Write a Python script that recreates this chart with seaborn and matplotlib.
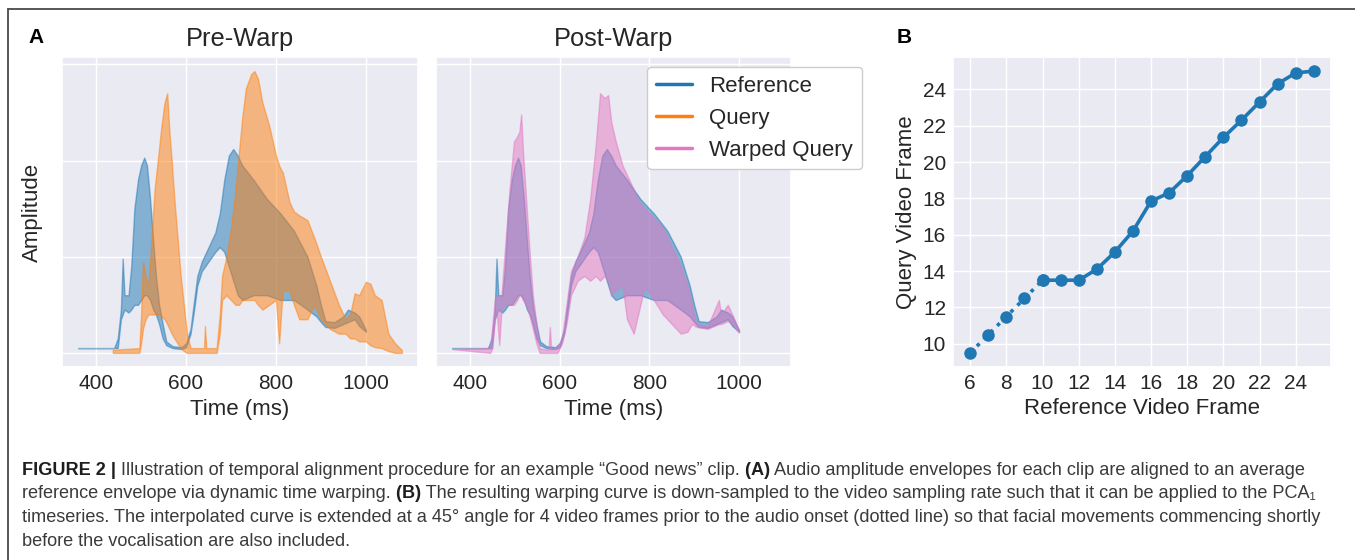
import matplotlib
matplotlib.use("Agg")
import matplotlib.pyplot as plt
from matplotlib.lines import Line2D
from matplotlib import font_manager
import seaborn as sns

# ------------------------------------------------------------------ data
# Panel A: amplitude envelopes (upper / lower envelope of the dense signal)
ref_time = [360, 440, 448, 455, 459, 463, 472, 478, 485, 493, 500, 507, 513, 520, 527, 533, 540, 548, 556, 570,
            590, 600, 610, 618, 625, 635, 650, 665, 675, 685, 695, 705, 715, 725, 750, 780, 810, 840, 870, 890,
            900, 910, 930, 950, 960, 975, 985, 1000]
ref_upper = [0.05, 0.05, 0.15, 0.45, 0.98, 0.60, 0.60, 0.90, 1.50, 1.80, 1.95, 2.03, 1.95, 1.60, 1.15, 0.80, 0.50, 0.30, 0.12, 0.07,
             0.06, 0.10, 0.25, 0.55, 0.80, 0.95, 1.10, 1.25, 1.45, 1.80, 2.05, 2.12, 2.05, 1.95, 1.80, 1.60, 1.45, 1.27, 1.00, 0.70,
             0.50, 0.33, 0.32, 0.38, 0.45, 0.42, 0.38, 0.24]
ref_lower = [0.05, 0.05, 0.05, 0.35, 0.40, 0.45, 0.42, 0.45, 0.50, 0.50, 0.55, 0.60, 0.60, 0.55, 0.45, 0.40, 0.30, 0.15, 0.08, 0.05,
             0.04, 0.06, 0.20, 0.45, 0.70, 0.85, 0.95, 1.05, 1.10, 1.05, 0.90, 0.75, 0.60, 0.55, 0.60, 0.60, 0.55, 0.55, 0.45, 0.38,
             0.32, 0.27, 0.26, 0.30, 0.32, 0.35, 0.28, 0.22]

query_time = [437, 460, 496, 500, 504, 510, 516, 522, 530, 537, 545, 552, 558, 563, 568, 574, 581, 588, 595, 602,
              610, 640, 642, 645, 668, 675, 680, 690, 700, 710, 718, 725, 733, 745, 752, 760, 770, 785, 800, 807,
              812, 815, 830, 840, 852, 870, 885, 900, 920, 940, 955, 965, 975, 985, 1000, 1010, 1020, 1035, 1050, 1065,
              1080]
query_upper = [0.03, 0.04, 0.05, 0.40, 0.95, 0.80, 0.70, 1.10, 1.70, 2.00, 2.35, 2.60, 2.70, 2.30, 2.00, 1.60, 1.20, 0.80, 0.50, 0.20,
               0.05, 0.05, 0.28, 0.05, 0.05, 0.40, 0.80, 1.00, 1.30, 1.70, 2.10, 2.45, 2.75, 2.90, 2.93, 2.85, 2.60, 2.36, 2.05, 1.95,
               1.90, 1.88, 1.57, 1.47, 1.43, 1.38, 1.20, 1.00, 0.75, 0.50, 0.35, 0.40, 0.62, 0.60, 0.74, 0.72, 0.60, 0.55, 0.20, 0.10,
               0.03]
query_lower = [0.00, 0.00, 0.00, 0.10, 0.25, 0.35, 0.40, 0.40, 0.40, 0.40, 0.38, 0.35, 0.30, 0.25, 0.20, 0.15, 0.10, 0.05, 0.02, 0.00,
               0.00, 0.00, 0.00, 0.00, 0.00, 0.20, 0.55, 0.60, 0.55, 0.50, 0.50, 0.55, 0.55, 0.55, 0.55, 0.50, 0.45, 0.50, 0.55, 0.10,
               0.45, 0.65, 0.65, 0.50, 0.35, 0.35, 0.50, 0.35, 0.25, 0.20, 0.20, 0.15, 0.15, 0.12, 0.12, 0.08, 0.06, 0.05, 0.02, 0.00,
               0.00]

warped_time = [360, 445, 450, 455, 460, 465, 470, 478, 488, 498, 505, 510, 514, 518, 525, 532, 540, 548, 555, 575,
               578, 581, 595, 605, 615, 625, 640, 655, 668, 680, 690, 700, 708, 715, 725, 740, 750, 765, 775, 790,
               810, 830, 850, 870, 885, 895, 905, 930, 955, 960, 975, 985, 1000]
warped_upper = [0.04, 0.05, 0.30, 0.55, 0.60, 0.55, 0.60, 1.10, 1.70, 2.20, 2.25, 2.30, 2.48, 2.10, 1.60, 1.10, 0.60, 0.30, 0.05, 0.03,
                0.27, 0.03, 0.07, 0.15, 0.50, 0.85, 1.00, 1.20, 1.60, 2.15, 2.70, 2.65, 2.68, 2.40, 2.20, 1.95, 1.85, 1.70, 1.58, 1.50,
                1.40, 1.30, 1.10, 0.90, 0.70, 0.50, 0.30, 0.28, 0.55, 0.40, 0.50, 0.40, 0.23]
warped_lower = [0.04, 0.00, 0.05, 0.35, 0.40, 0.08, 0.45, 0.50, 0.50, 0.50, 0.55, 0.60, 0.60, 0.55, 0.50, 0.40, 0.25, 0.10, 0.00, 0.00,
                0.00, 0.00, 0.00, 0.10, 0.30, 0.60, 0.75, 0.80, 0.75, 0.80, 0.75, 0.80, 0.75, 0.60, 0.65, 0.70, 0.35, 0.20, 0.40, 0.70,
                0.55, 0.40, 0.30, 0.20, 0.22, 0.30, 0.27, 0.25, 0.30, 0.30, 0.33, 0.30, 0.21]

series_labels = ["Reference", "Query", "Warped Query"]
time_ticks = [400, 600, 800, 1000]
amp_gridlines = [0, 1, 2, 3]

# Panel B: warping curve
ref_frames = [6, 7, 8, 9, 10, 11, 12, 13, 14, 15, 16, 17, 18, 19, 20, 21, 22, 23, 24, 25]
query_frames = [9.5, 10.5, 11.5, 12.5, 13.5, 13.5, 13.5, 14.1, 15.05, 16.2, 17.85, 18.3, 19.25, 20.3, 21.35,
                22.3, 23.3, 24.3, 24.9, 25.0]
n_extended = 5  # first frames (up to onset at frame 10) are the dotted 45-degree extension
frame_xticks = [6, 8, 10, 12, 14, 16, 18, 20, 22, 24]
frame_yticks = [10, 12, 14, 16, 18, 20, 22, 24]

caption_lines = [
    [("FIGURE 2 |", True), (" Illustration of temporal alignment procedure for an example \u201cGood news\u201d clip.", False),
     (" (A)", True), (" Audio amplitude envelopes for each clip are aligned to an average", False)],
    [("reference envelope via dynamic time warping.", False), (" (B)", True),
     (" The resulting warping curve is down-sampled to the video sampling rate such that it can be applied to the PCA\u2081", False)],
    [("timeseries. The interpolated curve is extended at a 45\u00b0 angle for 4 video frames prior to the audio onset "
      "(dotted line) so that facial movements commencing shortly", False)],
    [("before the vocalisation are also included.", False)],
]

# ------------------------------------------------------------------ style
sns.set_theme(style="darkgrid")
plt.rcParams["font.family"] = ["Liberation Sans", "DejaVu Sans"]
plt.rcParams["text.color"] = ".15"
plt.rcParams["axes.labelcolor"] = ".15"

C_REF, C_QUERY, C_WARP = "#1f77b4", "#ff7f0e", "#e377c2"

W, H = 1355, 560
fig = plt.figure(figsize=(W / 100, H / 100), dpi=100)


def box(left, top, right, bottom):
    return [left / W, 1 - bottom / H, (right - left) / W, (bottom - top) / H]


ax1 = fig.add_axes(box(62, 57, 418, 367))
ax2 = fig.add_axes(box(436, 57, 791, 367))
ax3 = fig.add_axes(box(953, 57, 1331, 367))

TICK_FS, LABEL_FS, TITLE_FS = 15, 16, 18.3


def envelope(ax, t, lo, up, color):
    ax.fill_between(t, lo, up, facecolor=color, edgecolor=color, alpha=0.5, linewidth=1.0)


envelope(ax1, ref_time, ref_lower, ref_upper, C_REF)
envelope(ax1, query_time, query_lower, query_upper, C_QUERY)
envelope(ax2, ref_time, ref_lower, ref_upper, C_REF)
envelope(ax2, warped_time, warped_lower, warped_upper, C_WARP)

xmin = min(ref_time + query_time)
xmax = max(ref_time + query_time)
span = xmax - xmin
ymax = max(ref_upper + query_upper + warped_upper)
for ax, title in [(ax1, "Pre-Warp"), (ax2, "Post-Warp")]:
    ax.set_xlim(xmin - 0.05 * span, xmax + 0.05 * span)
    ax.set_ylim(-0.05 * ymax, ymax * 1.05)
    ax.set_xticks(time_ticks)
    ax.set_yticks(amp_gridlines)
    ax.set_yticklabels([])
    ax.set_xlabel("Time (ms)", fontsize=LABEL_FS, labelpad=4)
    ax.set_title(title, fontsize=TITLE_FS, pad=8)
    ax.tick_params(axis="both", length=0, pad=5, labelsize=TICK_FS)
ax1.set_ylabel("Amplitude", fontsize=LABEL_FS, labelpad=9)

handles = [Line2D([], [], color=c, lw=2.5) for c in (C_REF, C_QUERY, C_WARP)]
ax2.legend(handles, series_labels, loc="upper right", bbox_to_anchor=(1.2, 0.968), borderaxespad=0,
           fontsize=16, frameon=True, facecolor="white", edgecolor="0.8", framealpha=1,
           handlelength=1.6, handletextpad=0.8, labelspacing=0.49, borderpad=0.4)

# Panel B
sns.lineplot(x=ref_frames[:n_extended], y=query_frames[:n_extended], ax=ax3, color=C_REF,
             linestyle=":", linewidth=2.6, marker="o", markersize=9, markeredgewidth=0)
sns.lineplot(x=ref_frames[n_extended - 1:], y=query_frames[n_extended - 1:], ax=ax3, color=C_REF,
             linestyle="-", linewidth=2.6, marker="o", markersize=9, markeredgewidth=0)
fspan = max(ref_frames) - min(ref_frames)
qspan = max(query_frames) - min(query_frames)
ax3.set_xlim(min(ref_frames) - 0.05 * fspan, max(ref_frames) + 0.05 * fspan)
ax3.set_ylim(min(query_frames) - 0.05 * qspan, max(query_frames) + 0.05 * qspan)
ax3.set_xticks(frame_xticks)
ax3.set_yticks(frame_yticks)
ax3.tick_params(axis="both", length=0, pad=5, labelsize=TICK_FS)
ax3.set_xlabel("Reference Video Frame", fontsize=LABEL_FS, labelpad=4)
ax3.set_ylabel("Query Video Frame", fontsize=LABEL_FS, labelpad=4)

# Panel letters
fig.text(28 / W, 1 - 43 / H, "A", fontsize=15, fontweight="bold", color="black", va="baseline", ha="left")
fig.text(897 / W, 1 - 43 / H, "B", fontsize=15, fontweight="bold", color="black", va="baseline", ha="left")

# Figure frame (top and left rules)
fig.add_artist(Line2D([8 / W, 1], [1 - 9 / H, 1 - 9 / H], transform=fig.transFigure, color="#4a4a4a", lw=1.3))
fig.add_artist(Line2D([8 / W, 8 / W], [0, 1 - 9 / H], transform=fig.transFigure, color="#4a4a4a", lw=1.3))


# Caption
def has_font(name):
    try:
        font_manager.findfont(font_manager.FontProperties(family=name), fallback_to_default=False)
        return True
    except Exception:
        return False


cap_family = [f for f in ["Liberation Sans Narrow", "Liberation Sans", "DejaVu Sans"] if has_font(f)]
if "DejaVu Sans" not in cap_family:
    cap_family.append("DejaVu Sans")
renderer = fig.canvas.get_renderer()


def place_line(x0, y_px, runs, size, draw=True):
    x = x0
    made = []
    for txt, bold in runs:
        t = fig.text(x / W, 1 - y_px / H, txt, fontsize=size, family=cap_family,
                     fontweight="bold" if bold else "normal",
                     color="#1e1e1e" if bold else "#3a3a3a", va="baseline", ha="left")
        x += t.get_window_extent(renderer).width
        made.append(t)
    if not draw:
        for t in made:
            t.remove()
    return x - x0


CAP_X = 22
targets = [1296, 1346, 1327]
probe = 12.0
scales = [(tgt - CAP_X) / place_line(CAP_X, 500, caption_lines[i], probe, draw=False) for i, tgt in enumerate(targets)]
cap_size = probe * sum(scales) / len(scales)
baselines = [475, 498.5, 522, 545.5]
for runs, yb in zip(caption_lines, baselines):
    place_line(CAP_X, yb, runs, cap_size)

fig.savefig("out.png", dpi=100)
